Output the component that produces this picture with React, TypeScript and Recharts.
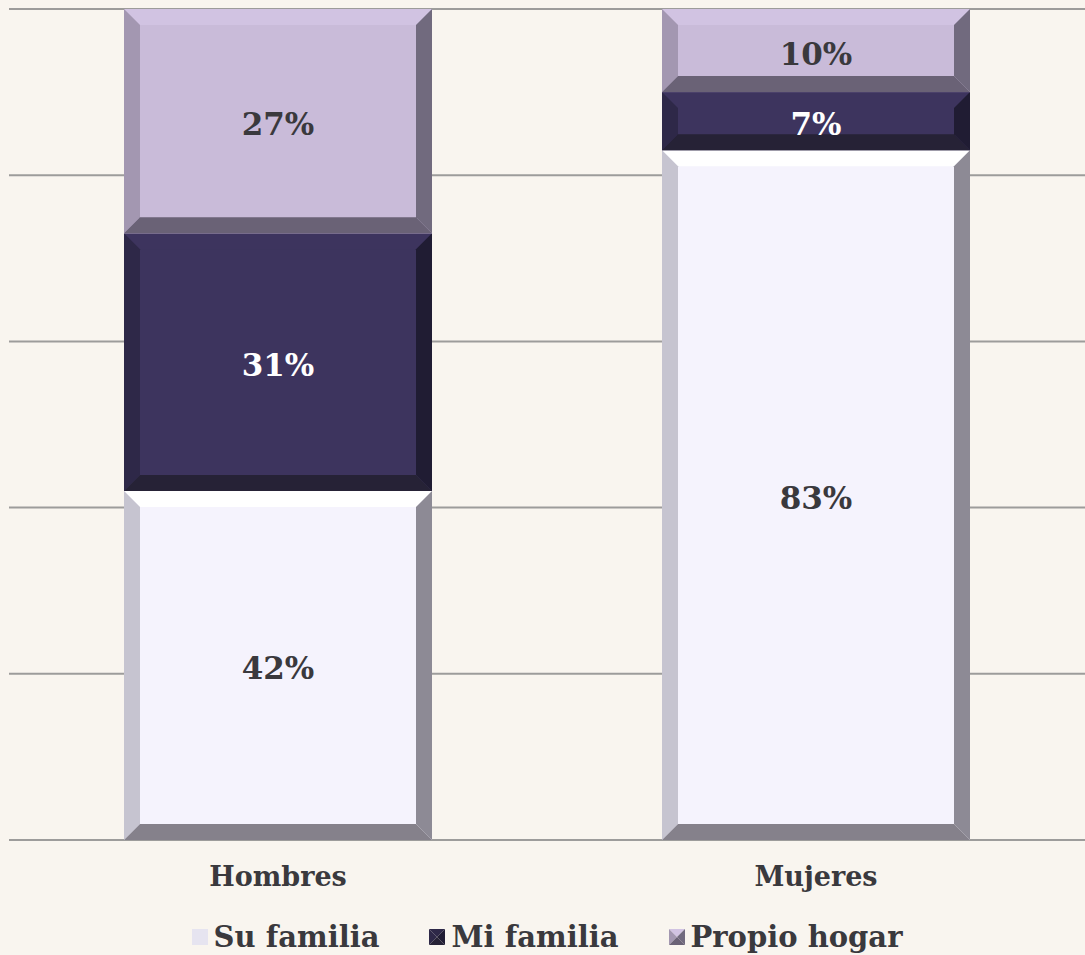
import React from "react";
import { BarChart, Bar, XAxis, YAxis, CartesianGrid, Legend, LabelList } from "recharts";

// Values (percent of respondents)
const categories = ["Hombres", "Mujeres"];
const suFamilia = [42, 83];
const miFamilia = [31, 7];
const propioHogar = [27, 10];
const yTicks = [0, 20, 40, 60, 80, 100];

const FONT = "'DejaVu Serif', Georgia, serif";
const TEXT = "#3a393d";

// face / top / left / right / bottom colours of each bevelled series
const BEVELS: Record<string, { face: string; top: string; left: string; right: string; bottom: string; label: string }> = {
  suFamilia: { face: "#f5f3fd", top: "#ffffff", left: "#c6c4d0", right: "#8d8a95", bottom: "#85818b", label: TEXT },
  miFamilia: { face: "#3d345e", top: "#3d345e", left: "#2e2848", right: "#201c33", bottom: "#262236", label: "#ffffff" },
  propioHogar: { face: "#c9bbd9", top: "#d1c3e2", left: "#a397b1", right: "#716a7e", bottom: "#6a6276", label: TEXT },
};

const SERIES = [
  { key: "suFamilia", name: "Su familia" },
  { key: "miFamilia", name: "Mi familia" },
  { key: "propioHogar", name: "Propio hogar" },
];

const data = categories.map((name, i) => ({
  name,
  suFamilia: suFamilia[i],
  miFamilia: miFamilia[i],
  propioHogar: propioHogar[i],
}));

const bevelShape = (key: string) => (props: any) => {
  const { x, y, width: w, height: h } = props;
  if (!w || !h) return null;
  const c = BEVELS[key];
  const b = Math.min(16, w / 2, h / 2);
  const pts = (arr: number[][]) => arr.map((p) => p.join(",")).join(" ");
  return (
    <g>
      <rect x={x} y={y} width={w} height={h} fill={c.face} />
      <polygon fill={c.top} points={pts([[x, y], [x + w, y], [x + w - b, y + b], [x + b, y + b]])} />
      <polygon fill={c.left} points={pts([[x, y], [x + b, y + b], [x + b, y + h - b], [x, y + h]])} />
      <polygon fill={c.right} points={pts([[x + w, y], [x + w, y + h], [x + w - b, y + h - b], [x + w - b, y + b]])} />
      <polygon fill={c.bottom} points={pts([[x, y + h], [x + b, y + h - b], [x + w - b, y + h - b], [x + w, y + h]])} />
    </g>
  );
};

const segmentLabel = (key: string) => (props: any) => {
  const { x, y, width, height, value } = props;
  return (
    <text
      x={x + width / 2}
      y={y + height / 2}
      dy={3}
      textAnchor="middle"
      dominantBaseline="central"
      fill={BEVELS[key].label}
      fontFamily={FONT}
      fontWeight="bold"
      fontSize={31}
    >
      {value}%
    </text>
  );
};

const CategoryTick = (props: any) => {
  const { x, y, payload } = props;
  return (
    <text x={x} y={y + 38} textAnchor="middle" fill={TEXT} fontFamily={FONT} fontWeight="bold" fontSize={27}>
      {payload.value}
    </text>
  );
};

const LegendIcon = ({ k }: { k: string }) => {
  const c = BEVELS[k];
  if (k === "suFamilia") {
    return (
      <svg width={16} height={16} style={{ display: "block" }}>
        <rect width={16} height={16} fill="#e6e4f0" />
      </svg>
    );
  }
  return (
    <svg width={16} height={16} style={{ display: "block" }}>
      <polygon points="0,0 16,0 8,8" fill={c.top === c.face ? c.left : c.top} />
      <polygon points="0,0 8,8 0,16" fill={c.left} />
      <polygon points="16,0 16,16 8,8" fill={c.right} />
      <polygon points="0,16 8,8 16,16" fill={c.bottom} />
    </svg>
  );
};

const renderLegend = () => (
  <div
    style={{
      height: 52,
      boxSizing: "border-box",
      paddingTop: 16,
      display: "flex",
      justifyContent: "center",
      alignItems: "center",
      gap: 50,
      fontFamily: FONT,
      fontWeight: "bold",
      fontSize: 29,
      color: TEXT,
      whiteSpace: "nowrap",
    }}
  >
    {SERIES.map((s) => (
      <div key={s.key} style={{ display: "flex", alignItems: "center", gap: 6 }}>
        <LegendIcon k={s.key} />
        <span>{s.name}</span>
      </div>
    ))}
  </div>
);

export default function App() {
  return (
    <div style={{ position: "absolute", left: 0, top: 0, width: 1085, height: 955, background: "#f9f5ef", overflow: "hidden" }}>
      <BarChart width={1085} height={955} data={data} margin={{ top: 9, right: 0, left: 9, bottom: 0 }}>
        <CartesianGrid vertical={false} stroke="#9d9c9b" strokeWidth={2} />
        <XAxis dataKey="name" axisLine={false} tickLine={false} height={63} tick={<CategoryTick />} />
        <YAxis hide domain={[0, 100]} ticks={yTicks} />
        <Legend verticalAlign="bottom" content={renderLegend} wrapperStyle={{ bottom: 0 }} />
        {SERIES.map((s) => (
          <Bar
            key={s.key}
            dataKey={s.key}
            name={s.name}
            stackId="a"
            barSize={308}
            shape={bevelShape(s.key)}
            isAnimationActive={false}
          >
            <LabelList dataKey={s.key} content={segmentLabel(s.key)} />
          </Bar>
        ))}
      </BarChart>
    </div>
  );
}
